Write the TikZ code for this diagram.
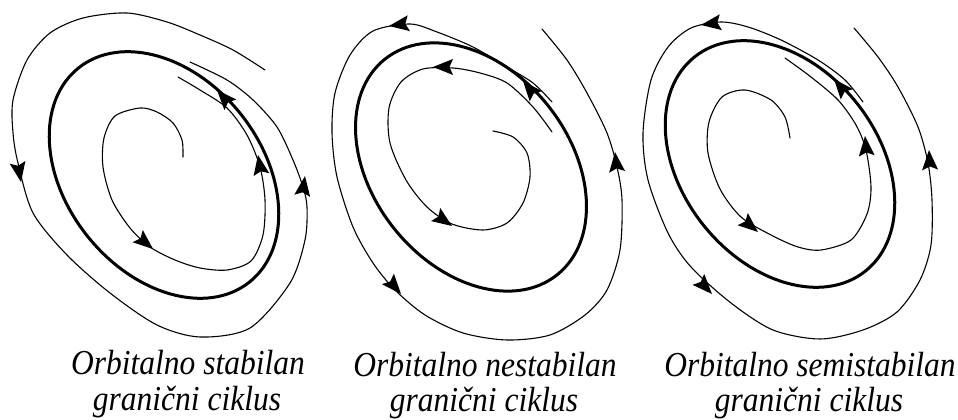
\documentclass[tikz,border=0pt]{standalone}
\usepackage{fontspec}
\setmainfont{Liberation Serif}
\usepackage{graphicx}
\tikzset{
  spiral/.style={line width=1.1pt, line join=round, line cap=round},
  cycleline/.style={line width=3pt},
  headfill/.style={fill=black},
  caption/.style={font=\fontsize{35}{37}\selectfont\itshape, inner sep=0pt, anchor=base}
}
\newcommand\arrowtip[3]{\fill[headfill, shift={(#1,#2)}, rotate=#3] (0,0) -- (-20,-8) -- (-16.5,0) -- (-20,8) -- cycle;}
\begin{document}
\begin{tikzpicture}[x=1pt,y=1pt]
\useasboundingbox (0,0) rectangle (958,420);
\begin{scope}[shift={(0,420)}, yscale=-1]
  % ---------- stable ----------
  \draw[cycleline] (164,175) ellipse [x radius=137, y radius=98, rotate=51.4];
  \draw[spiral] plot[smooth] coordinates {(265,70) (233,50) (200,35) (167,22) (127,13) (83,18) (50,33) (27,60) (13,100) (13,133) (18,163) (33,213) (67,255) (110,293) (157,325) (200,337) (250,328) (290,283) (305,240) (307,207) (303,187) (293,160) (277,127) (253,100) (227,80) (190,62)};
  \draw[spiral] plot[smooth] coordinates {(183,157) (182,140) (173,123) (157,112) (140,108) (115,116) (104,138) (103,167) (112,200) (130,228) (150,247) (175,260) (200,268) (227,270) (251,261) (263,235) (265,200) (260,167) (247,135) (227,108) (200,90) (178,77)};
  \arrowtip{21}{182}{80}
  \arrowtip{305}{176}{-82}
  \arrowtip{217}{90}{-132}
  \arrowtip{153}{249}{40}
  \arrowtip{258}{155}{-100}
  % ---------- unstable ----------
  \draw[cycleline] (471,167) ellipse [x radius=138, y radius=98.5, rotate=51.4];
  \draw[spiral] plot[smooth] coordinates {(552,102) (533,83) (507,67) (473,47) (437,32) (410,24) (373,31) (350,55) (335,93) (332,133) (337,177) (353,227) (373,263) (395,290) (425,315) (463,333) (507,340) (550,335) (585,315) (607,290) (620,250) (622,200) (617,167) (607,133) (587,93) (567,60) (542,29)};
  \draw[spiral] plot[smooth] coordinates {(552,132) (533,107) (507,83) (480,73) (453,68) (423,69) (401,82) (389,108) (390,143) (406,180) (427,207) (452,224) (483,230) (507,223) (523,203) (530,177) (527,153) (513,137) (493,131)};
  \arrowtip{389}{26}{172}
  \arrowtip{401}{294}{49}
  \arrowtip{615}{152}{-96}
  \arrowtip{523}{81}{-130}
  \arrowtip{433}{67}{180}
  \arrowtip{452}{226}{35}
  % ---------- semistable ----------
  \draw[cycleline] (780,164) ellipse [x radius=137, y radius=98, rotate=51.4];
  \draw[spiral] plot[smooth] coordinates {(863,102) (845,80) (818,60) (781,40) (748,27) (721,22) (691,28) (668,47) (651,80) (643,133) (648,180) (668,233) (691,267) (731,303) (773,330) (820,339) (863,330) (897,312) (920,280) (931,245) (932,200) (928,163) (918,127) (898,87) (878,57) (854,28)};
  \draw[spiral] plot[smooth] coordinates {(790,138) (785,117) (771,100) (745,90) (722,97) (709,122) (708,153) (720,189) (741,217) (771,235) (798,247) (821,250) (851,240) (867,214) (871,187) (866,150) (856,125) (838,100) (811,77) (785,58)};
  \arrowtip{701}{25}{172}
  \arrowtip{712}{294}{47}
  \arrowtip{929}{150}{-93}
  \arrowtip{834}{79}{-130}
  \arrowtip{758}{232}{40}
  \arrowtip{865}{136}{-95}
\end{scope}
\node[caption] (c1a) at (188,45) {\scalebox{0.9}[1]{Orbitalno stabilan}};
\node[caption] (c1b) at (187,9) {\scalebox{0.9}[1]{granični ciklus}};
\node[caption] (c2a) at (485,43) {\scalebox{0.9}[1]{Orbitalno nestabilan}};
\node[caption] (c2b) at (484,8) {\scalebox{0.9}[1]{granični ciklus}};
\node[caption] (c3a) at (810,43) {\scalebox{0.9}[1]{Orbitalno semistabilan}};
\node[caption] (c3b) at (809,8) {\scalebox{0.9}[1]{granični ciklus}};
\end{tikzpicture}
\end{document}
